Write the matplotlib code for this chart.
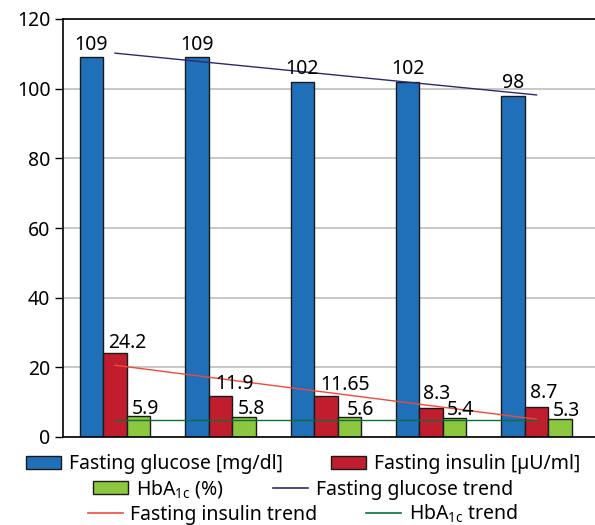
import matplotlib
matplotlib.use("Agg")
import matplotlib.pyplot as plt
import matplotlib.patches as mpatches
from matplotlib.lines import Line2D
import numpy as np

plt.rcParams['font.family'] = ['Noto Sans', 'DejaVu Sans']
plt.rcParams['mathtext.fontset'] = 'custom'
plt.rcParams['mathtext.rm'] = 'Noto Sans'
plt.rcParams['mathtext.it'] = 'Noto Sans:italic'

# values
glucose = [109, 109, 102, 102, 98]
insulin = [24.2, 11.9, 11.65, 8.3, 8.7]
hba1c = [5.9, 5.8, 5.6, 5.4, 5.3]
insulin_labels = ["24.2", "11.9", "11.65", "8.3", "8.7"]

# trend lines (start / end values as drawn)
glucose_trend = [110.2, 98.2]
insulin_trend = [20.6, 5.1]
hba1c_trend = [5.0, 5.0]

C_BLUE = '#1f70b8'
C_RED = '#c01e2e'
C_GREEN = '#8dc63f'
C_GLU_TR = '#2b2a6e'
C_INS_TR = '#f04a3a'
C_HBA_TR = '#0e6e3a'
EDGE = '#1a1a1a'
FS = 14

fig = plt.figure(figsize=(5.95, 5.25), dpi=100)
ax = fig.add_axes([63/595, 1-437/525, 1-63/595, (437-19)/525])

x = np.arange(len(glucose))
w = 0.223
ax.bar(x - w, glucose, w, color=C_BLUE, edgecolor=EDGE, linewidth=1, zorder=2)
ax.bar(x, insulin, w, color=C_RED, edgecolor=EDGE, linewidth=1, zorder=2)
ax.bar(x + w, hba1c, w, color=C_GREEN, edgecolor=EDGE, linewidth=1, zorder=2)

ends = [x[0], x[-1]]
ax.plot(ends, glucose_trend, color=C_GLU_TR, lw=1.0, zorder=3)
ax.plot(ends, insulin_trend, color=C_INS_TR, lw=1.0, zorder=3)
ax.plot(ends, hba1c_trend, color=C_HBA_TR, lw=1.0, zorder=3)

# value labels (offsets in points, as placed in the original)
ins_dx = [9, 10, 14, 4, 5.5]
ins_dy = [3.5, 5, 4.5, 6.5, 6.5]
hba_dx = [5, 5.5, 8, 4, 4.5]
for i in x:
    ax.annotate(str(glucose[i]), (i - w, glucose[i]), xytext=(0, 5.5),
                textcoords='offset points', ha='center', va='baseline', fontsize=FS, zorder=4)
    ax.annotate(insulin_labels[i], (i, insulin[i]), xytext=(ins_dx[i], ins_dy[i]),
                textcoords='offset points', ha='center', va='baseline', fontsize=FS, zorder=4)
    ax.annotate(str(hba1c[i]), (i + w, hba1c[i]), xytext=(hba_dx[i], 2),
                textcoords='offset points', ha='center', va='baseline', fontsize=FS, zorder=4)

ax.set_ylim(0, 120)
ax.set_yticks(range(0, 121, 20))
ax.set_xlim(-0.493, -0.493 + 532/105.4)
ax.set_xticks([])
ax.yaxis.grid(True, color='#bfbfbf', lw=1.2, zorder=0)
ax.set_axisbelow(True)
ax.tick_params(axis='y', length=6, width=1, labelsize=FS, pad=3, direction='out')
ax.spines['right'].set_visible(False)
for s in ['top', 'left', 'bottom']:
    ax.spines[s].set_color('black')
    ax.spines[s].set_linewidth(1.2)

h_glu = mpatches.Patch(facecolor=C_BLUE, edgecolor=EDGE, lw=1)
h_ins = mpatches.Patch(facecolor=C_RED, edgecolor=EDGE, lw=1)
h_hba = mpatches.Patch(facecolor=C_GREEN, edgecolor=EDGE, lw=1)
l_glu = Line2D([], [], color=C_GLU_TR, lw=1.2)
l_ins = Line2D([], [], color=C_INS_TR, lw=1.2)
l_hba = Line2D([], [], color=C_HBA_TR, lw=1.2)

rows = [
    ([h_glu, h_ins], ['Fasting glucose [mg/dl]', 'Fasting insulin [µU/ml]'], 464),
    ([h_hba, l_glu], [r'HbA$_{\mathrm{1c}}$ (%)', 'Fasting glucose trend'], 489),
    ([l_ins, l_hba], ['Fasting insulin trend', r'HbA$_{\mathrm{1c}}$ trend'], 514),
]
for handles, labels, ypix in rows:
    leg = fig.legend(handles, labels, ncol=2, loc='center',
                     bbox_to_anchor=(303/595, 1 - ypix/525), frameon=False,
                     fontsize=FS, handlelength=1.8, handleheight=0.65,
                     handletextpad=0.4, columnspacing=2.5, borderpad=0,
                     borderaxespad=0)

fig.savefig('out.png', dpi=100)
